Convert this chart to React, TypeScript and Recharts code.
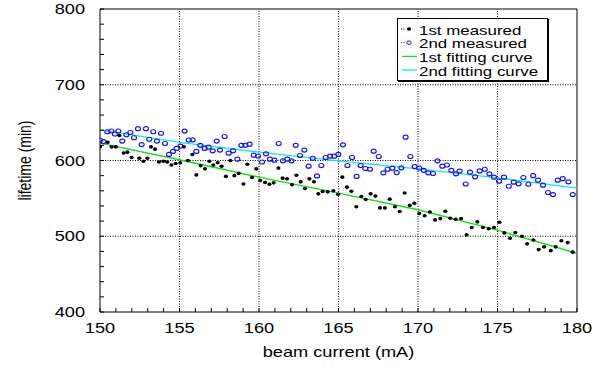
import React from 'react';
import { ComposedChart, Scatter, Line, XAxis, YAxis, ReferenceLine, Legend } from 'recharts';

const FONT = '"Liberation Sans", Arial, Helvetica, sans-serif';
const SX = 1.3;

// ---- data ----
const firstX = [
  150.0, 150.48, 150.73, 150.99, 151.22, 151.49, 151.72, 151.99, 152.47, 152.73, 152.98, 153.21, 153.46, 153.71,
  153.98, 154.23, 154.49, 154.76, 155.05, 155.28, 155.53, 155.81, 156.06, 156.33, 156.6, 156.88, 157.13, 157.4,
  157.65, 157.92, 158.2, 158.45, 158.72, 159.02, 159.27, 159.56, 159.83, 160.08, 160.38, 160.65, 160.92, 161.22,
  161.49, 161.76, 162.08, 162.35, 162.62, 162.89, 163.17, 163.46, 163.73, 164.0, 164.32, 164.68, 164.97,
  165.24, 165.53, 165.81, 166.12, 166.44, 166.71, 167.02, 167.32, 167.61, 167.92, 168.22, 168.55, 168.85, 169.16,
  169.48, 169.77, 170.08, 170.42, 170.75, 171.07, 171.4, 171.72, 172.03, 172.37,
  172.71, 173.06, 173.38, 173.73, 174.09, 174.45, 174.78, 175.12, 175.43, 175.79, 176.12, 176.54, 176.86, 177.26,
  177.59, 177.93, 178.35, 178.66, 179.02, 179.42, 179.73,
];
const firstY = [
  618, 624, 618, 618, 633, 610, 611, 604, 603, 599, 603, 618, 615, 598,
  599, 598, 594, 596, 597, 618, 600, 608, 581, 593, 589, 599, 594, 597,
  592.5, 579, 600, 580, 583, 569, 595, 577.5, 589, 573.6, 571, 568.7, 570.5, 590,
  576.7, 575.8, 568, 580.6, 571.8, 563, 575.8, 572, 556, 559, 558.6, 560, 555.5,
  578, 564.8, 559.5, 539, 552.4, 548.5, 556, 553, 537.4, 537.4, 549, 539, 532.6, 557,
  540.7, 543.4, 530, 527, 532, 521.6, 523.3, 533, 523.8, 522.5,
  523.3, 502, 511.5, 519, 511.5, 510, 511.5, 518.5, 504.4, 497.4, 505, 500, 490, 495,
  482.4, 486, 481, 486, 494, 491.6, 479,
];
const secondX = [
  150.0, 150.23, 150.46, 150.71, 150.94, 151.15, 151.4, 151.66, 151.91, 152.14, 152.39, 152.62, 152.89, 153.1,
  153.35, 153.58, 153.84, 154.09, 154.34, 154.59, 154.82, 155.07, 155.32, 155.58, 155.83, 156.06, 156.31, 156.58,
  156.83, 157.09, 157.34, 157.55,
  157.84, 158.09, 158.37, 158.64, 158.89, 159.14, 159.41, 159.67, 159.94, 160.19, 160.44, 160.69, 160.97, 161.24,
  161.51, 161.78, 162.05, 162.31, 162.58, 162.85, 163.12, 163.38, 163.65, 163.92, 164.19, 164.47, 164.74, 164.99,
  165.28, 165.56, 165.85, 166.14, 166.39, 166.69, 166.98, 167.21, 167.53, 167.82, 168.09, 168.39, 168.66, 168.95,
  169.22, 169.52, 169.79, 170.08, 170.36, 170.65, 170.94, 171.22, 171.53, 171.82, 172.1, 172.39, 172.62,
  173.0, 173.27, 173.59, 173.88, 174.2, 174.49, 174.78, 175.1, 175.41, 175.71, 176.02, 176.33, 176.63, 176.94,
  177.24, 177.55, 177.86, 178.18, 178.49, 178.79, 179.1, 179.46, 179.73,
];
const secondY = [
  627, 625, 638, 639, 635, 639, 625.6, 634, 637, 630, 642, 621, 642, 628,
  638, 625.6, 636, 622.5, 608, 612, 616, 619, 638.8, 627, 627.3, 612, 620, 616,
  617.6, 612.8, 625.6, 613.7,
  631.7, 609.7, 612.8, 601.8, 620, 620, 621.6, 607, 606, 598, 608.8, 601.8, 600.4, 622.5,
  599.6, 601.8, 599.6, 620, 606.6, 613.7, 592.5, 603, 579.7, 593.4, 604, 605.7, 605.7, 608,
  620.7, 593.4, 604, 579, 593.4, 589.4, 588.5, 612.3, 605.3, 583.7, 588.5, 589.9, 584, 590.3,
  630.8, 605.3, 592, 590, 587, 583.7, 582.8, 599.6, 592.5, 594, 587, 582.4, 586,
  569, 584.6, 578.4, 586.3, 588.5, 582.4, 578, 572.7, 578, 566, 571.4, 569.2, 577.5, 568.7,
  580, 574, 567.4, 557.7, 555, 574, 576, 571.8, 555,
];
const fit1X = [150, 155, 160, 165, 170, 175, 180];
const fit1Y = [623, 601, 578, 557, 535, 508, 477.5];
const fit2X = [150, 155, 160, 165, 170, 175, 180];
const fit2Y = [640.5, 624, 611, 599.5, 589, 577, 563.5];

const xMajorTicks = [150, 155, 160, 165, 170, 175, 180];
const xAllTicks = [
  150, 151, 152, 153, 154, 155, 156, 157, 158, 159, 160, 161, 162, 163, 164, 165,
  166, 167, 168, 169, 170, 171, 172, 173, 174, 175, 176, 177, 178, 179, 180,
];
const yMajorTicks = [400, 500, 600, 700, 800];
const yAllTicks = [
  400, 420, 440, 460, 480, 500, 520, 540, 560, 580, 600, 620, 640, 660, 680, 700, 720, 740, 760, 780, 800,
];
const xGrid = [155, 160, 165, 170, 175];
const yGrid = [500, 600, 700];

const xTitle = 'beam current (mA)';
const yTitle = 'lifetime (min)';
const legendLabels = ['1st measured', '2nd measured', '1st fitting curve', '2nd fitting curve'];

const zip = (xs: number[], ys: number[]) => xs.map((x, i) => ({ x, y: ys[i] }));
const firstData = zip(firstX, firstY);
const secondData = zip(secondX, secondY);
const fit1Data = zip(fit1X, fit1Y);
const fit2Data = zip(fit2X, fit2Y);

const BLUE = '#1414ff';
const GREEN = '#11e011';
const CYAN = '#11e6f0';

const XTick = (props: any) => {
  const { x, y, payload } = props;
  if (!xMajorTicks.includes(payload.value)) return <g />;
  return (
    <g transform={`translate(${x},${y}) scale(${SX},1)`}>
      <text x={0} y={0} dy="0.36em" textAnchor="middle" fontFamily={FONT} fontSize={14} fill="#000">
        {payload.value}
      </text>
    </g>
  );
};

const YTick = (props: any) => {
  const { x, y, payload } = props;
  if (!yMajorTicks.includes(payload.value)) return <g />;
  return (
    <g transform={`translate(${x},${y}) scale(${SX},1)`}>
      <text x={0} y={0} dy="0.36em" textAnchor="end" fontFamily={FONT} fontSize={14} fill="#000">
        {payload.value}
      </text>
    </g>
  );
};

const XTitle = (props: any) => {
  const vb = props.viewBox || { x: 100, y: 312, width: 477, height: 56 };
  return (
    <g transform={`translate(${vb.x + vb.width / 2},${vb.y + 40}) scale(${SX},1)`}>
      <text x={0} y={0} dy="0.36em" textAnchor="middle" fontFamily={FONT} fontSize={14} fill="#000">
        {xTitle}
      </text>
    </g>
  );
};

const YTitle = (props: any) => {
  const vb = props.viewBox || { x: 0, y: 9, width: 100, height: 303 };
  return (
    <g transform={`translate(${vb.x + 24},${vb.y + vb.height / 2}) scale(${SX},1) rotate(-90)`}>
      <text x={0} y={0} dy="0.36em" textAnchor="middle" fontFamily={FONT} fontSize={14} fill="#000">
        {yTitle}
      </text>
    </g>
  );
};

const BlackDot = (props: any) => <ellipse cx={props.cx} cy={props.cy} rx={2.1} ry={1.8} fill="#000" />;
const BlueCircle = (props: any) => (
  <ellipse cx={props.cx} cy={props.cy} rx={2.5} ry={2.0} fill="none" stroke={BLUE} strokeWidth={1.15} />
);

const LegendBox = () => {
  const rows = [11, 24.7, 38.4, 52];
  return (
    <div
      style={{
        width: 151,
        height: 63,
        boxSizing: 'border-box',
        border: '1px solid #000',
        boxShadow: '1px 1px 0 #000',
        background: '#fff',
      }}
    >
      <svg width={149} height={61} style={{ display: 'block' }}>
        <line x1={3} y1={rows[0] - 1} x2={8} y2={rows[0] - 1} stroke="#000" strokeDasharray="1 1.5" />
        <ellipse cx={11} cy={rows[0] - 1} rx={2.1} ry={1.8} fill="#000" />
        <line x1={3} y1={rows[1] - 1} x2={7} y2={rows[1] - 1} stroke={BLUE} strokeDasharray="1 1.5" />
        <ellipse cx={11} cy={rows[1] - 1} rx={2.2} ry={1.8} fill="none" stroke={BLUE} strokeWidth={1} />
        <line x1={4} y1={rows[2] - 1} x2={19} y2={rows[2] - 1} stroke={GREEN} strokeWidth={1.3} />
        <line x1={4} y1={rows[3] - 1} x2={19} y2={rows[3] - 1} stroke={CYAN} strokeWidth={1.3} />
        {legendLabels.map((t, i) => (
          <g key={t} transform={`translate(21,${rows[i]}) scale(${SX},1)`}>
            <text x={0} y={0} dy="0.36em" fontFamily={FONT} fontSize={13} fill="#000">
              {t}
            </text>
          </g>
        ))}
      </svg>
    </div>
  );
};

export default function App() {
  return (
    <div style={{ position: 'absolute', left: 0, top: 0, width: 599, height: 368, background: '#fff' }}>
      <ComposedChart width={599} height={368} margin={{ top: 9, right: 22, bottom: 0, left: 0 }}>
        <XAxis
          dataKey="x"
          type="number"
          domain={[150, 180]}
          ticks={xAllTicks}
          interval={0}
          allowDataOverflow
          height={56}
          tickSize={-4}
          tickMargin={20}
          tick={XTick}
          axisLine={{ stroke: '#000', strokeWidth: 1 }}
          tickLine={{ stroke: '#000', strokeWidth: 1 }}
          label={{ value: xTitle, content: XTitle }}
        />
        <YAxis
          dataKey="y"
          type="number"
          domain={[400, 800]}
          ticks={yAllTicks}
          interval={0}
          allowDataOverflow
          width={100}
          tickSize={-4}
          tickMargin={19}
          tick={YTick}
          axisLine={{ stroke: '#000', strokeWidth: 1 }}
          tickLine={{ stroke: '#000', strokeWidth: 1 }}
          label={{ value: yTitle, content: YTitle }}
        />
        {xGrid.map((v) => (
          <ReferenceLine key={'gx' + v} x={v} stroke="#000" strokeDasharray="1 1.5" strokeWidth={1} />
        ))}
        {yGrid.map((v) => (
          <ReferenceLine key={'gy' + v} y={v} stroke="#000" strokeDasharray="1 1.5" strokeWidth={1} />
        ))}
        <ReferenceLine y={800} stroke="#000" strokeWidth={1} />
        <ReferenceLine x={180} stroke="#000" strokeWidth={1} />
        <Scatter data={secondData} dataKey="y" shape={BlueCircle} isAnimationActive={false} legendType="none" />
        <Scatter data={firstData} dataKey="y" shape={BlackDot} isAnimationActive={false} legendType="none" />
        <Line
          data={fit1Data}
          dataKey="y"
          type="linear"
          stroke={GREEN}
          strokeWidth={1.4}
          dot={false}
          activeDot={false}
          isAnimationActive={false}
          legendType="none"
        />
        <Line
          data={fit2Data}
          dataKey="y"
          type="linear"
          stroke={CYAN}
          strokeWidth={1.4}
          dot={false}
          activeDot={false}
          isAnimationActive={false}
          legendType="none"
        />
        <Legend
          layout="vertical"
          align="center"
          verticalAlign="middle"
          wrapperStyle={{ left: 397, top: 18, width: 151, height: 63 }}
          content={LegendBox}
        />
      </ComposedChart>
    </div>
  );
}
